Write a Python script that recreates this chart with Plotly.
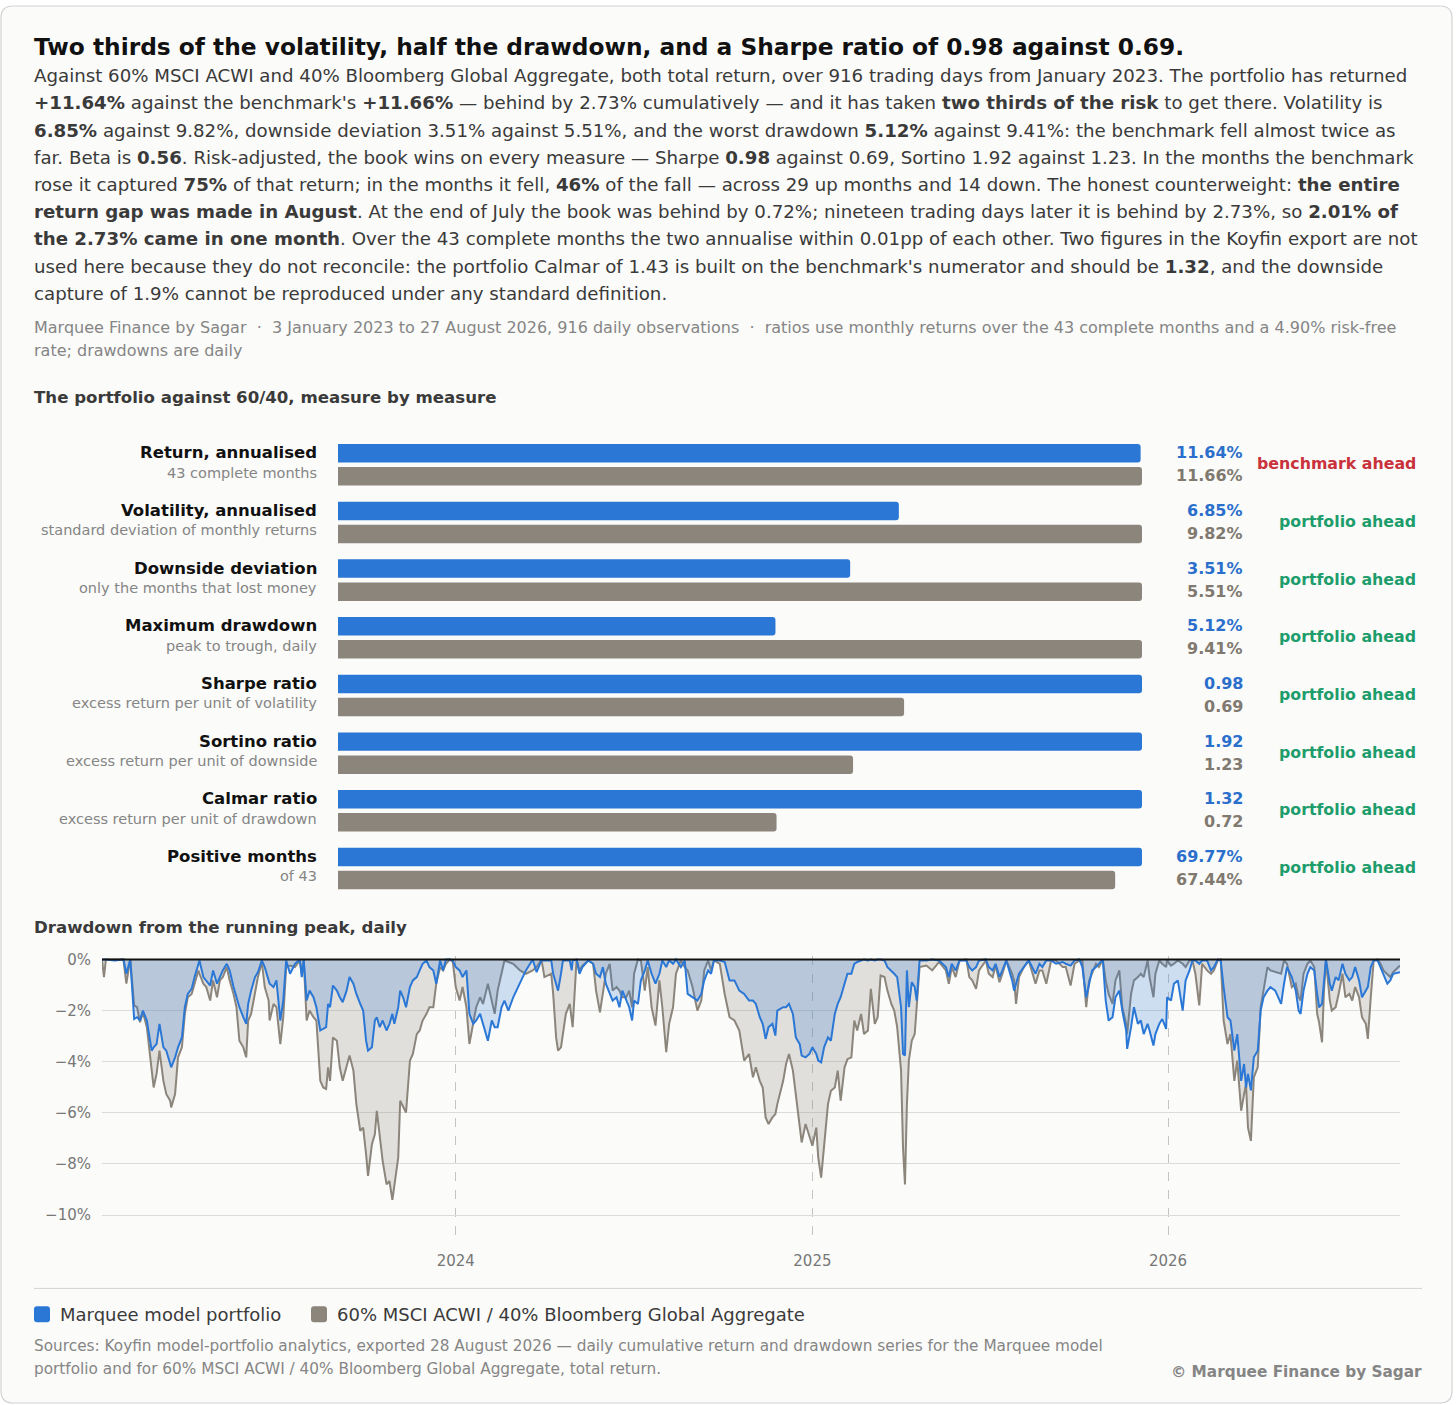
import pandas as pd
import plotly.graph_objects as go

# ---- measures, portfolio vs 60/40 ----
measures = ["Return, annualised", "Volatility, annualised", "Downside deviation", "Maximum drawdown",
            "Sharpe ratio", "Sortino ratio", "Calmar ratio", "Positive months"]
measure_notes = ["43 complete months", "standard deviation of monthly returns", "only the months that lost money",
                 "peak to trough, daily", "excess return per unit of volatility", "excess return per unit of downside",
                 "excess return per unit of drawdown", "of 43"]
portfolio_vals = [11.64, 6.85, 3.51, 5.12, 0.98, 1.92, 1.32, 69.77]
benchmark_vals = [11.66, 9.82, 5.51, 9.41, 0.69, 1.23, 0.72, 67.44]
is_percent = [True, True, True, True, False, False, False, True]
higher_is_better = [True, False, False, False, True, True, True, True]

# ---- daily drawdown (sampled), calendar days after 3 January 2023 ----
obs_day = [
    0, 2, 4, 13, 22, 25, 29, 33, 36, 39, 42, 46, 49, 51, 53, 56, 59, 63, 66, 70,
    71, 75, 78, 82, 85, 88, 92, 95, 99, 100, 104, 107, 111, 114, 118, 121, 124, 128, 131, 135,
    138, 141, 145, 148, 150, 153, 157, 160, 164, 167, 171, 172, 176, 179, 183, 186, 189,
    193, 198, 203, 205, 207, 210, 213, 217, 220, 224, 227, 230, 232, 234, 237, 241, 244, 247, 251, 254,
    258, 261, 265, 268, 271, 273, 277, 280, 282, 285, 288, 292, 295, 298, 300, 304, 306, 309, 312, 316,
    319, 323, 326, 329, 333, 336, 340, 343, 347, 350, 353, 357, 360, 363, 367, 370, 374, 377, 381, 384,
    388, 391, 396, 400, 403, 406, 410, 413, 417, 422, 429, 435, 442,
    446, 451, 454, 461, 463, 466, 468, 471, 473, 476, 480, 482, 483, 487, 490, 493, 499, 504, 507, 511,
    514, 517, 521, 524, 528, 531, 534, 538, 541, 544, 546, 550, 553, 557, 560, 564, 568, 572, 575, 579,
    582, 586, 589, 594, 598, 601, 606, 611, 615, 618, 622, 625, 628, 634, 639, 644, 649, 654, 659, 664,
    668, 671, 675, 678, 681, 684, 688, 691, 693, 699,
    702, 705, 709, 712, 716, 718, 722, 726, 729, 733, 735, 738, 741, 745, 748, 752, 755, 758, 762, 765,
    769, 772, 775, 779, 782, 786, 789, 793, 796, 799, 803, 806, 810, 813, 816, 820, 822, 824, 826, 828,
    831, 834, 836, 839, 846, 852, 859, 866, 869, 872, 876, 880, 887, 890, 893, 897, 900, 907, 910, 914,
    917, 921, 924, 928, 931, 934, 936, 938, 941, 946, 951, 958,
    962, 965, 969, 974, 979, 986, 989, 994, 998, 1003, 1006, 1010, 1013, 1016, 1020, 1023, 1027, 1030, 1033, 1037,
    1040, 1044, 1047, 1051, 1052, 1056, 1059, 1063, 1066, 1069, 1073, 1075, 1079, 1081, 1085, 1088, 1092, 1093, 1097, 1100,
    1104, 1109, 1112, 1116, 1119, 1122, 1126, 1129, 1134, 1138, 1141, 1145, 1148, 1151, 1155, 1158, 1162, 1165, 1169, 1172,
    1174, 1176, 1179, 1182, 1186, 1189, 1192, 1196, 1199, 1204, 1210, 1213, 1216,
    1221, 1225, 1228, 1230, 1233, 1237, 1240, 1244, 1247, 1249, 1252, 1254, 1256, 1260, 1262, 1266, 1269, 1273, 1276, 1280,
    1283, 1286, 1290, 1293, 1297, 1299, 1302, 1305, 1309, 1312, 1315, 1319, 1322, 1325, 1332,
]
portfolio_dd = [
    0, 0, 0, -0.04, 0, -0.56, 0, -2.33, -2.26, -2.39, -2.0, -2.39, -3.05, -3.57, -3.44, -3.31, -2.52, -3.44, -3.57, -4.09,
    -4.22, -3.83, -3.44, -3.05, -1.87, -1.35, -1.15, -0.69, -0.17, -0.04, -0.69, -0.82, -1.02, -0.43, -0.95, -0.69, -0.43, -0.17, -0.43, -1.08,
    -1.48, -1.87, -2.26, -2.52, -1.74, -1.22, -0.69, -0.50, -0.04, -0.30, -0.82, -0.95, -1.08, -0.82, -2.39, -1.61, -0.04,
    -0.56, -0.17, 0, -0.69, 0, -1.61, -1.22, -1.48, -1.87, -2.78, -2.72, -2.65, -1.74, -1.87, -1.02, -1.22, -1.48, -1.67, -1.22, -0.69,
    -0.95, -1.35, -1.74, -2.0, -3.18, -3.57, -3.44, -2.39, -2.26, -2.65, -2.39, -2.78, -2.52, -2.13, -2.52, -1.87, -1.22, -1.48, -1.87, -1.08,
    -0.82, -0.69, -0.43, -0.17, -0.04, -0.30, -0.43, -0.95, -0.04, -0.43, 0, 0, -0.04, -0.30, -0.43, -0.69, -0.43, -2.13, -2.52, -2.39,
    -2.13, -2.52, -3.18, -2.39, -2.65, -2.65, -1.87, -1.61, -2.0, -1.48, -0.95, -0.43, 0,
    -0.50, -0.04, -0.04, -0.04, -0.56, -0.95, -1.22, -0.56, -0.04, -0.04, -0.04, -0.43, -0.04, 0, -0.56, -0.30, -0.04, -0.17, -0.56, -0.69,
    -0.30, -0.95, -1.35, -1.61, -1.48, -1.87, -1.22, -1.61, -1.87, -2.39, -1.61, -1.74, -0.82, -0.43, -0.04, -0.56, -0.95, -0.56, -0.04, -0.30,
    -0.04, -0.17, 0, -0.30, -0.04, -1.35, -1.48, -1.61, -1.35, -0.82, -0.43, -0.56, -0.04, -0.04, -0.10, -0.82, -0.82, -1.22, -1.35, -1.61,
    -1.61, -1.74, -2.26, -2.52, -3.11, -2.65, -2.52, -2.98, -2.0, -1.87,
    -1.87, -1.74, -2.13, -3.05, -3.31, -3.76, -3.83, -3.70, -3.44, -3.70, -3.96, -4.03, -3.44, -3.05, -3.18, -2.13, -1.74, -1.48, -0.95, -0.56,
    -0.56, -0.17, -0.10, -0.04, 0, -0.04, 0, -0.04, 0, 0, -0.04, -0.30, -0.43, -0.56, -0.69, -1.87, -3.70, -3.76, -0.43, -1.87,
    -0.89, -1.08, -1.61, -0.04, -0.04, 0, -0.04, -0.30, -0.69, -0.17, -0.43, -0.04, -0.04, -0.30, -0.43, -0.30, -0.04, 0, -0.30, -0.43,
    -0.17, -0.69, -0.43, -0.04, -0.43, -0.82, -1.22, -0.95, -0.56, -0.30, -0.04, -0.56,
    -0.17, -0.30, -0.04, -0.04, -0.17, -0.10, -0.17, -0.24, -0.04, 0, -0.30, -1.48, -0.95, -0.43, -0.30, -0.17, 0, -1.61, -2.39, -2.26,
    -1.48, -1.22, -2.0, -2.78, -3.50, -2.65, -1.87, -2.52, -2.39, -2.92, -2.52, -2.78, -3.37, -2.92, -2.52, -2.33, -2.72, -1.48, -1.61, -0.95,
    -0.82, -2.0, -0.82, -0.43, -0.04, -0.04, -0.17, -0.04, -0.04, -0.43, -0.30, 0, -0.04, -1.08, -2.26, -2.39, -3.57, -2.92, -4.75, -4.09,
    -5.01, -4.48, -5.12, -3.83, -3.57, -2.0, -1.48, -1.22, -1.08, -1.22, -1.74, -0.95, -0.30,
    -0.69, -1.22, -2.0, -2.13, -1.22, -0.56, -0.30, -0.43, -1.35, -1.87, -1.74, -0.82, 0, -0.95, -1.22, -0.69, -0.82, -0.17, -0.56, -0.82,
    -0.69, -0.30, -0.82, -1.48, -1.22, -1.08, -0.30, -0.04, -0.04, -0.30, -0.56, -0.95, -0.82, -0.56, -0.50,
]
benchmark_dd = [
    0, -0.69, 0, 0, 0, -0.95, 0, -1.80, -1.87, -2.46, -2.07, -2.65, -3.57, -4.22, -5.01, -4.48, -3.57, -4.75, -5.27, -5.53,
    -5.79, -5.27, -3.83, -3.44, -2.13, -1.48, -1.35, -0.95, -0.43, -0.56, -0.95, -1.08, -1.61, -0.82, -1.48, -0.82, -0.69, -0.30, -0.82, -1.35,
    -1.87, -3.18, -3.44, -3.83, -2.39, -2.13, -1.22, -0.69, -0.10, -1.08, -1.61, -2.39, -1.74, -1.87, -3.31, -2.26, -0.30,
    -0.24, -0.30, -0.04, -0.56, -0.04, -2.39, -2.0, -2.26, -2.39, -4.75, -5.01, -5.07, -4.22, -4.75, -3.05, -3.18, -4.22, -4.75, -4.22, -3.76,
    -4.35, -5.66, -6.71, -6.58, -7.62, -8.47, -7.23, -6.84, -5.92, -6.84, -7.88, -8.80, -8.67, -9.41, -8.80, -7.75, -5.53, -5.79, -5.99, -3.96,
    -3.70, -2.92, -2.78, -2.39, -2.13, -1.87, -1.87, -0.95, -0.30, -0.43, -0.17, 0, -0.10, -1.08, -1.61, -1.08, -1.87, -3.31, -2.52, -1.87,
    -1.48, -1.74, -0.95, -1.61, -2.13, -1.22, -0.56, -0.04, -0.10, -0.17, -0.43, -0.56, -0.43,
    -0.30, 0, -0.69, -0.56, -1.35, -3.05, -3.57, -3.44, -2.92, -2.13, -1.74, -2.52, -2.65, 0, -0.43, -0.24, -0.04, -0.17, -1.22, -2.07,
    -1.22, -0.56, -0.17, -1.22, -1.08, -1.22, -1.48, -1.48, -1.22, -1.87, -0.56, 0, -0.04, -1.22, -0.30, -1.87, -2.59, -0.82, -1.87, -3.63,
    -2.52, -1.87, -0.56, -0.04, -0.30, -0.43, -1.08, -2.0, -1.61, -0.43, -0.04, -0.43, -0.04, -0.17, -1.35, -2.26, -2.39, -2.78, -3.96, -3.70,
    -4.61, -4.22, -4.75, -5.01, -6.18, -6.44, -6.18, -6.05, -5.66, -4.75,
    -4.09, -3.70, -4.35, -5.27, -6.58, -7.16, -6.44, -6.97, -7.29, -6.58, -7.75, -8.54, -7.36, -5.66, -5.14, -5.01, -4.35, -5.53, -4.22, -3.90,
    -3.83, -2.39, -2.78, -2.13, -2.92, -2.78, -1.15, -2.52, -2.26, -0.63, -0.69, -1.22, -1.74, -2.0, -2.65, -4.35, -7.36, -8.80, -5.66, -3.96,
    -3.18, -2.92, -1.87, -0.30, -0.24, -0.43, -0.10, -0.43, -0.95, -0.30, -0.69, -0.04, 0, -0.69, -0.82, -1.15, -0.43, -0.04, -0.56, -0.69,
    -0.24, -0.89, -0.56, -0.04, -0.30, -0.56, -0.82, -1.74, -0.69, -0.30, -0.04, -0.95,
    -0.43, -0.43, -0.95, -0.04, -0.04, -0.30, -0.30, -1.02, -0.17, -0.04, -0.04, -1.87, -0.82, -0.56, -0.17, -0.30, 0, -0.82, -1.35, -1.74,
    -0.82, -0.43, -1.87, -2.52, -2.92, -1.35, -0.82, -0.69, -0.56, -0.69, -0.04, -0.69, -1.48, -0.56, -0.04, -0.17, -0.30, -0.04, -0.24, -0.17,
    -0.04, -0.17, -0.30, -0.04, -0.04, -0.56, -1.80, -0.17, -0.43, -0.56, -0.43, -0.04, 0, -2.39, -3.31, -2.92, -4.75, -3.96, -5.92, -5.27,
    -4.88, -6.58, -7.10, -4.61, -4.22, -1.87, -1.22, -0.30, -0.43, -0.50, -0.56, -0.04, -0.17,
    -1.08, -0.95, -1.48, -1.61, -0.56, -0.17, -0.04, -0.30, -2.13, -2.46, -3.24, -1.22, -0.04, -1.61, -2.0, -1.87, -1.35, -0.56, -1.48, -1.35,
    -1.61, -1.08, -1.48, -2.26, -2.52, -3.11, -1.48, -0.04, 0, -0.17, -0.43, -0.56, -0.69, -0.50, -0.24,
]
year_ticks = ["2024-01-01", "2025-01-01", "2026-01-01"]
year_labels = ["2024", "2025", "2026"]
dd_ticks = [0, -2, -4, -6, -8, -10]
dd_labels = ["0%", "−2%", "−4%", "−6%", "−8%", "−10%"]

W, H = 1456, 1405
FONT = "DejaVu Sans"
BLUE = "#2b77d6"
GREY = "#8b857c"
INK = "#111111"
BODY = "#3a3a3a"
MUTED = "#858585"
RED = "#c9323b"
GREEN = "#1e9d6c"
CARD = "#fbfbf9"


def px(x):
    return x / W


def py(y):
    return 1 - y / H


def rounded_rect(x0, y0, x1, y1, r):
    # path in paper coords from pixel corners
    rx, ry = r / W, r / H
    a, b, c, d = px(x0), py(y0), px(x1), py(y1)
    return (f"M {a + rx},{b} L {c - rx},{b} Q {c},{b} {c},{b - ry} L {c},{d + ry} Q {c},{d} {c - rx},{d} "
            f"L {a + rx},{d} Q {a},{d} {a},{d + ry} L {a},{b - ry} Q {a},{b} {a + rx},{b} Z")


fig = go.Figure()

# ---- bars ----
scale = [max(p, b) for p, b in zip(portfolio_vals, benchmark_vals)]
fig.add_trace(go.Bar(y=measures, x=[p / s for p, s in zip(portfolio_vals, scale)], orientation="h",
                     marker=dict(color=BLUE, line=dict(width=0)), showlegend=False, hoverinfo="skip",
                     xaxis="x", yaxis="y"))
fig.add_trace(go.Bar(y=measures, x=[b / s for b, s in zip(benchmark_vals, scale)], orientation="h",
                     marker=dict(color=GREY, line=dict(width=0)), showlegend=False, hoverinfo="skip",
                     xaxis="x", yaxis="y"))

# ---- drawdown ----
dates = pd.Timestamp("2023-01-03") + pd.to_timedelta(obs_day, unit="D")
fig.add_trace(go.Scatter(x=dates, y=benchmark_dd, mode="lines", fill="tozeroy",
                         fillcolor="rgba(139,133,124,0.24)", line=dict(color=GREY, width=2),
                         showlegend=False, hoverinfo="skip", xaxis="x2", yaxis="y2"))
fig.add_trace(go.Scatter(x=dates, y=portfolio_dd, mode="lines", fill="tozeroy",
                         fillcolor="rgba(43,119,214,0.22)", line=dict(color=BLUE, width=2),
                         showlegend=False, hoverinfo="skip", xaxis="x2", yaxis="y2"))

fig.update_layout(
    width=W, height=H,
    margin=dict(l=0, r=0, t=0, b=0),
    paper_bgcolor="white", plot_bgcolor="rgba(0,0,0,0)",
    font=dict(family=FONT, color=BODY),
    barmode="group", bargap=0.2, bargroupgap=0.2, barcornerradius=3,
    xaxis=dict(domain=[px(338), px(1142)], range=[0, 1], visible=False, fixedrange=True),
    yaxis=dict(domain=[py(895.5), py(432.5)], categoryorder="array", categoryarray=measures,
               autorange="reversed", visible=False),
    xaxis2=dict(domain=[px(102), px(1400)], type="date", range=[dates[0], dates[-1]],
                tickvals=year_ticks, ticktext=year_labels, showgrid=True, gridcolor="#c4c4c4",
                griddash="dash", gridwidth=1, zeroline=False, showline=False, ticks="",
                ticklabelstandoff=9, tickfont=dict(size=15, color="#777777"), anchor="y2"),
    yaxis2=dict(domain=[py(1240), py(954)], range=[-11.0, 0.15], tickvals=dd_ticks, ticktext=dd_labels,
                showgrid=True, gridcolor="#dcdcdc", gridwidth=1, zeroline=False, showline=False,
                ticks="", ticklabelstandoff=10, tickfont=dict(size=15, color="#777777"), anchor="x2"),
)

# card background and border
fig.add_shape(type="path", path=rounded_rect(1, 1, 1452, 1403, 12), xref="paper", yref="paper",
              fillcolor=CARD, line=dict(color="#d2d2d2", width=1.2), layer="below")
# zero line of the drawdown panel
fig.add_shape(type="line", xref="x2", yref="y2", x0=dates[0], x1=dates[-1], y0=0, y1=0,
              line=dict(color="#111111", width=2), layer="above")
# rule above the legend
fig.add_shape(type="line", xref="paper", yref="paper", x0=px(34), x1=px(1422), y0=py(1288), y1=py(1288),
              line=dict(color="#d4d4d4", width=1))


def text(x, y, s, size, color, anchor="left"):
    nudge = -2 if anchor == "left" else 2
    fig.add_annotation(x=px(x + nudge), y=py(y), xref="paper", yref="paper", text=s, showarrow=False,
                       xanchor=anchor, yanchor="middle", align=anchor,
                       font=dict(family=FONT, size=size, color=color))


# ---- header ----
text(34, 42, "<b>Two thirds of the volatility, half the drawdown, and a Sharpe ratio of 0.98 against 0.69.</b>", 23.3, INK)
paragraph = [
    "Against 60% MSCI ACWI and 40% Bloomberg Global Aggregate, both total return, over 916 trading days from January 2023. The portfolio has returned",
    "<b>+11.64%</b> against the benchmark's <b>+11.66%</b> — behind by 2.73% cumulatively — and it has taken <b>two thirds of the risk</b> to get there. Volatility is",
    "<b>6.85%</b> against 9.82%, downside deviation 3.51% against 5.51%, and the worst drawdown <b>5.12%</b> against 9.41%: the benchmark fell almost twice as",
    "far. Beta is <b>0.56</b>. Risk-adjusted, the book wins on every measure — Sharpe <b>0.98</b> against 0.69, Sortino 1.92 against 1.23. In the months the benchmark",
    "rose it captured <b>75%</b> of that return; in the months it fell, <b>46%</b> of the fall — across 29 up months and 14 down. The honest counterweight: <b>the entire</b>",
    "<b>return gap was made in August</b>. At the end of July the book was behind by 0.72%; nineteen trading days later it is behind by 2.73%, so <b>2.01% of</b>",
    "<b>the 2.73% came in one month</b>. Over the 43 complete months the two annualise within 0.01pp of each other. Two figures in the Koyfin export are not",
    "used here because they do not reconcile: the portfolio Calmar of 1.43 is built on the benchmark's numerator and should be <b>1.32</b>, and the downside",
    "capture of 1.9% cannot be reproduced under any standard definition.",
]
for i, line in enumerate(paragraph):
    text(34, 71 + i * 27.3, line, 18.2, BODY)

text(34, 323.5, "Marquee Finance by Sagar  ·  3 January 2023 to 27 August 2026, 916 daily observations  ·  ratios use monthly returns over the 43 complete months and a 4.90% risk-free", 16, MUTED)
text(34, 346.5, "rate; drawdowns are daily", 16, MUTED)

text(34, 393.5, "<b>The portfolio against 60/40, measure by measure</b>", 16.6, BODY)
text(34, 925.5, "<b>Drawdown from the running peak, daily</b>", 16.6, BODY)

# ---- bar labels ----
for i, m in enumerate(measures):
    p, b = portfolio_vals[i], benchmark_vals[i]
    fmt = "{:.2f}%" if is_percent[i] else "{:.2f}"
    ahead = (p > b) == higher_is_better[i]
    common = dict(xref="paper", yref="y", y=m, showarrow=False, yanchor="middle")
    fig.add_annotation(x=px(319), xanchor="right", yshift=12, text=f"<b>{m}</b>",
                       font=dict(family=FONT, size=16.5, color=INK), **common)
    fig.add_annotation(x=px(319), xanchor="right", yshift=-8, text=measure_notes[i],
                       font=dict(family=FONT, size=14.5, color=MUTED), **common)
    fig.add_annotation(x=px(1245), xanchor="right", yshift=12, text=f"<b>{fmt.format(p)}</b>",
                       font=dict(family=FONT, size=16, color="#2a6fcb"), **common)
    fig.add_annotation(x=px(1245), xanchor="right", yshift=-11, text=f"<b>{fmt.format(b)}</b>",
                       font=dict(family=FONT, size=16, color="#7f796f"), **common)
    fig.add_annotation(x=px(1418), xanchor="right", yshift=1,
                       text="<b>portfolio ahead</b>" if ahead else "<b>benchmark ahead</b>",
                       font=dict(family=FONT, size=15.8, color=GREEN if ahead else RED), **common)

# ---- legend ----
fig.add_shape(type="path", path=rounded_rect(34, 1306, 50, 1322, 3), xref="paper", yref="paper",
              fillcolor=BLUE, line=dict(width=0))
text(60, 1314, "Marquee model portfolio", 18, BODY)
fig.add_shape(type="path", path=rounded_rect(311, 1306, 327, 1322, 3), xref="paper", yref="paper",
              fillcolor=GREY, line=dict(width=0))
text(337, 1314, "60% MSCI ACWI / 40% Bloomberg Global Aggregate", 18, BODY)

# ---- footer ----
text(34, 1346, "Sources: Koyfin model-portfolio analytics, exported 28 August 2026 — daily cumulative return and drawdown series for the Marquee model", 15.3, MUTED)
text(34, 1369, "portfolio and for 60% MSCI ACWI / 40% Bloomberg Global Aggregate, total return.", 15.3, MUTED)
text(1422, 1372, "<b>© Marquee Finance by Sagar</b>", 15.3, MUTED, anchor="right")

fig.write_html("out.html", config={"displayModeBar": False},
               post_script="document.body.style.margin='0';document.body.style.overflow='hidden';")
